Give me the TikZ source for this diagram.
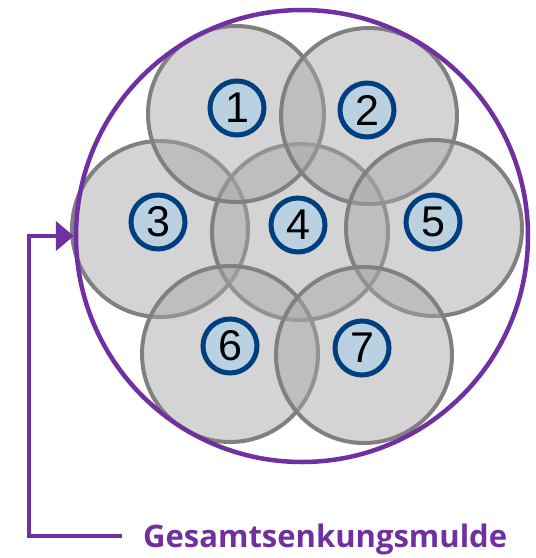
\documentclass[tikz,border=0pt]{standalone}
\usepackage{fontspec}
\setmainfont{Liberation Sans}
\newfontfamily\muldefont{Open Sans}
\usetikzlibrary{arrows.meta}
\definecolor{mulde}{HTML}{7030A0}
\definecolor{navy}{HTML}{003F7F}
\definecolor{paleblue}{HTML}{B9D1E0}
\definecolor{zonefill}{HTML}{A6A6A6}
\definecolor{zoneline}{HTML}{808080}

\begin{document}
\begin{tikzpicture}[x=1pt,y=-1pt,
        zone/.style={circle,draw=zoneline,fill=zonefill,fill opacity=0.48,line width=4pt,minimum size=176pt,inner sep=0pt},
        num/.style={circle,draw=navy,fill=paleblue,line width=5pt,minimum size=54pt,inner sep=0pt,font=\fontsize{43}{43}\selectfont}]
            \useasboundingbox (0,0) rectangle (536,558);
            % Einzelmulden
            \node [zone] (c3) at (160,229) {};
            \node [zone] (c4) at (300,232) {};
            \node [zone] (c1) at (236,114) {};
            \node [zone] (c2) at (369,116) {};
            \node [zone] (c5) at (434,228) {};
            \node [zone] (c6) at (230,354) {};
            \node [zone] (c7) at (364,355) {};
            % Gesamtmulde
            \node [circle,draw=mulde,line width=4.5pt,minimum size=452pt,inner sep=0pt] (ring) at (302,236) {};
            \node [num] (n1) at (237,108) {1};
            \node [num] (n2) at (367,110) {2};
            \node [num] (n3) at (158,222) {3};
            \node [num] (n4) at (298,225) {4};
            \node [num] (n5) at (433,222) {5};
            \node [num] (n6) at (230,346) {6};
            \node [num] (n7) at (362,348) {7};
            \node [anchor=west,text=mulde,inner xsep=21pt,inner ysep=0pt,text height=23pt,text depth=0pt,
                   font=\muldefont\bfseries\fontsize{31}{31}\selectfont] (gesamt) at (122,536) {Gesamtsenkungsmulde};
            \coordinate (bend) at (29,236);

            \draw [-{Triangle[length=18pt,width=29pt]}, draw=mulde, line width=4.5pt] (gesamt.west) -| (bend) -- (ring.west);
        \end{tikzpicture}
\end{document}
